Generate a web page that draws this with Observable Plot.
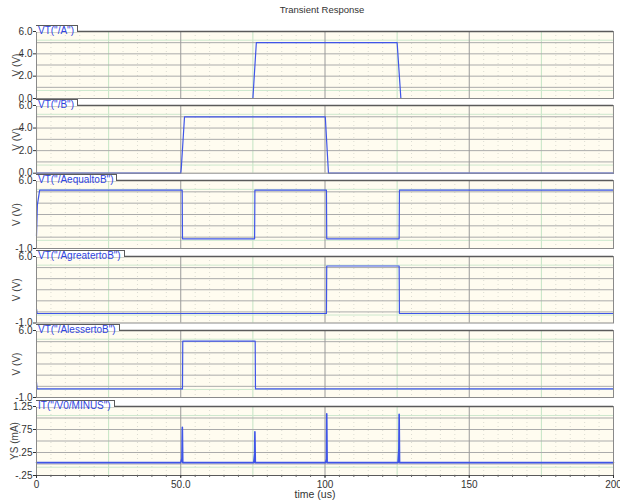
<!DOCTYPE html>
<html><head><meta charset="utf-8">
<script src="https://cdn.jsdelivr.net/npm/d3@7"></script>
<script src="https://cdn.jsdelivr.net/npm/@observablehq/plot@0.6"></script>
<style>
html,body{margin:0;padding:0;background:#fff;}
#chart{position:relative;width:620px;height:504px;overflow:hidden;font-family:"Liberation Sans",Arial,sans-serif;}
#chart svg{position:absolute;left:0;overflow:visible;}
.tab{position:absolute;left:36px;background:#fff;border-top:1px solid #5a5a5a;border-right:1.5px solid #5a5a5a;color:#2f45e0;font-size:10px;line-height:9px;height:6px;padding:0 3px 0 2px;white-space:pre;overflow:visible;}
.title{position:absolute;top:4px;left:0;width:644px;text-align:center;font-size:9.5px;color:#333;line-height:11px;}
</style></head><body><div id="chart"></div>
<script>
// ---- data ----
const chartTitle = "Transient Response";
const xLabel = "time (us)";
const xTickValues = [0, 50, 100, 150, 200];
const xTickLabels = ["0", "50.0", "100", "150", "200"];

const aTime = [0, 75.0, 76.2, 125.0, 126.3, 200];
const aVolt = [0, 0, 5.0, 5.0, 0, 0];
const bTime = [0, 50.0, 50.2, 51.3, 100.1, 101.2, 200];
const bVolt = [0, 0, 0.5, 5.0, 5.0, 0, 0];
const eqTime = [0, 0.3, 1.1, 50.5, 50.6, 75.6, 75.7, 100.5, 100.6, 125.7, 125.8, 200];
const eqVolt = [0.3, 3.5, 5.0, 5.0, 0, 0, 5.0, 5.0, 0, 0, 5.0, 5.0];
const gtTime = [0, 0.2, 100.5, 100.6, 125.7, 125.8, 200];
const gtVolt = [0.5, 0, 0, 5.0, 5.0, 0, 0];
const ltTime = [0, 0.2, 50.6, 50.7, 75.8, 75.9, 200];
const ltVolt = [0.6, -0.1, -0.1, 4.9, 4.9, -0.1, -0.1];
const iTime = [0, 50.0, 50.4, 50.55, 50.7, 75.3, 75.6, 75.7, 75.85, 100.2, 100.5, 100.6, 100.75, 125.3, 125.6, 125.7, 125.85, 200];
const iCurrent = [0.03, 0.03, 0.12, 0.80, 0.03, 0.03, 0.22, 0.70, 0.03, 0.03, 0.11, 1.09, 0.03, 0.03, 0.33, 1.08, 0.03, 0.03];

const panelNames = ['VT("/A")', 'VT("/B")', 'VT("/AequaltoB")', 'VT("/AgreatertoB")', 'VT("/AlessertoB")', 'IT("/V0/MINUS")'];
const panelTimes = [aTime, bTime, eqTime, gtTime, ltTime, iTime];
const panelValues = [aVolt, bVolt, eqVolt, gtVolt, ltVolt, iCurrent];
const yDomains = [[0, 6], [0, 6], [-1, 6], [-1, 6], [-1, 6], [-0.25, 1.25]];
const yTickValues = [[0, 2, 4, 6], [0, 2, 4, 6], [-1, 6], [-1, 6], [-1, 6], [-0.25, 0.25, 0.75, 1.25]];
const yTickLabels = [["0.0", "2.0", "4.0", "6.0"], ["0.0", "2.0", "4.0", "6.0"], ["-1.0", "6.0"], ["-1.0", "6.0"], ["-1.0", "6.0"], ["-.25", ".25", ".75", "1.25"]];
const yLabels = ["V (V)", "V (V)", "V (V)", "V (V)", "V (V)", "YS (mA)"];

// ---- layout (page pixels) ----
const panelTop = [31, 105, 180, 255.5, 330, 405.5];
const panelBottom = [98, 172.7, 248, 322, 397, 474.5];

const chart = document.getElementById("chart");
const FONT = '"Liberation Sans", Arial, sans-serif';
const BLUE = "#3f55e8";

const minorX = d3.range(5, 200, 5).filter(t => t % 25 !== 0);
const greenX = [25, 75, 125, 175];
const grayX = [50, 100, 150];

panelNames.forEach((name, i) => {
  const last = i === panelNames.length - 1;
  const mt = 10, mb = last ? 30 : 8;
  const h = panelBottom[i] - panelTop[i];
  const [y0, y1] = yDomains[i];
  const span = y1 - y0;
  const grid = d3.range(1, 6).map(k => y0 + k * span / 6);
  const green = [y0 + 0.12 * span, y1 - 0.13 * span];
  const t = panelTimes[i], v = panelValues[i];
  const marks = [
    Plot.frame({fill: "#fffcf0", stroke: null}),
    Plot.ruleX(minorX, {stroke: "#dcdcd2", strokeDasharray: "1,3"}),
    Plot.ruleX(greenX, {stroke: "#c4e4c4"}),
    Plot.ruleY(green, {stroke: "#cde8cd"}),
    Plot.ruleY(grid, {stroke: "#ababab"}),
    Plot.ruleX(grayX, {stroke: "#9a9a9a"}),
    Plot.line({length: t.length}, {x: t, y: v, stroke: BLUE, strokeWidth: last ? 1.6 : 1.2}),
    Plot.frame({stroke: "#8a8a8a"}),
    Plot.ruleY([y1], {stroke: "#5a5a5a", strokeWidth: 1.5}),
    Plot.axisY(yTickValues[i], {
      tickSize: 3, tickPadding: 1, fontSize: 10, color: "#333", label: null,
      tickFormat: d => yTickLabels[i][yTickValues[i].indexOf(d)]
    }),
    Plot.text([yLabels[i]], {frameAnchor: "left", textAnchor: "middle", rotate: -90, dx: last ? -22 : -20, fontSize: 10, fill: "#444"})
  ];
  if (last) {
    marks.push(
      Plot.ruleY([y0], {stroke: "#5a5a5a", strokeWidth: 1.2}),
      Plot.axisX(d3.range(0, 201, 5), {tickSize: 2, tickFormat: () => "", label: null, color: "#666"}),
      Plot.axisX(xTickValues, {
        tickSize: 3, tickPadding: 2, fontSize: 10, color: "#333", label: null,
        tickFormat: d => xTickLabels[xTickValues.indexOf(d)]
      }),
      Plot.text([xLabel], {frameAnchor: "bottom", dy: 22, dx: -10, fontSize: 10.5, fill: "#333"})
    );
  }
  const svg = Plot.plot({
    width: 620,
    height: h + mt + mb,
    marginTop: mt, marginBottom: mb, marginLeft: 36, marginRight: 7,
    x: {domain: [0, 200], axis: null},
    y: {domain: yDomains[i], axis: null},
    style: {background: "none", fontFamily: FONT, overflow: "visible"},
    marks
  });
  svg.style.position = "absolute";
  svg.style.top = (panelTop[i] - mt) + "px";
  svg.style.left = "0px";
  chart.appendChild(svg);
});

// label tabs on top
panelNames.forEach((name, i) => {
  const d = document.createElement("div");
  d.className = "tab";
  d.style.top = (panelTop[i] - 6) + "px";
  d.textContent = name;
  chart.appendChild(d);
});

const title = document.createElement("div");
title.className = "title";
title.textContent = chartTitle;
chart.appendChild(title);
</script>
</body></html>
